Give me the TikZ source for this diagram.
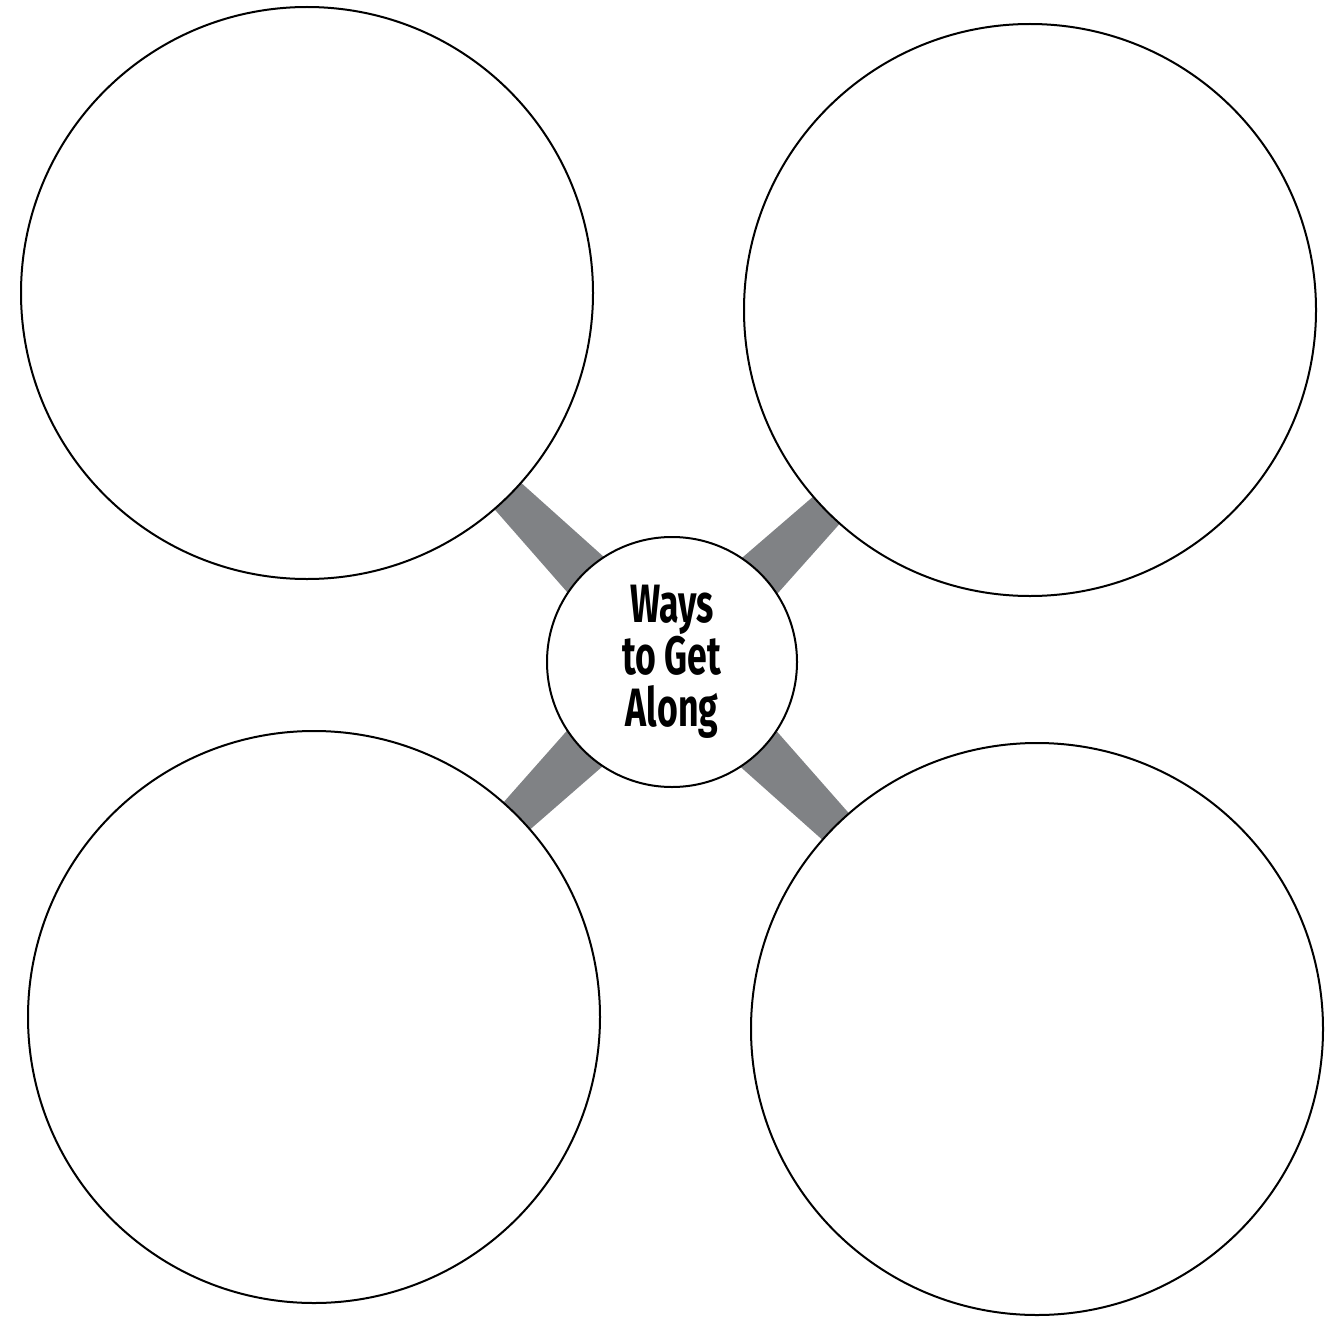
\documentclass[tikz,border=0pt]{standalone}
\usepackage{fontspec}
\newfontfamily\cf[FakeStretch=0.66]{Fira Sans}
\usetikzlibrary{calc}
\definecolor{bandgray}{RGB}{128,130,133}
\tikzset{
  big/.style={circle, draw=black, line width=2pt, fill=white, minimum size=572pt, inner sep=0pt},
  hub/.style={circle, draw=black, line width=2pt, fill=white, minimum size=250pt, inner sep=0pt, align=center, font=\cf\bfseries\fontsize{54}{52}\selectfont},
  band/.style={fill=bandgray}
}
\begin{document}
\begin{tikzpicture}[x=1pt,y=-1pt]
\useasboundingbox (0,0) rectangle (1336,1319);
\coordinate (ptl) at (307,293);
\coordinate (ptr) at (1030,310);
\coordinate (pbl) at (314,1017);
\coordinate (pbr) at (1037,1029);
\coordinate (pc) at (672,662);
\foreach \n in {ptl,ptr,pbl,pbr}{
  \fill[band] ($(\n)!240pt!(pc)!16pt!90:(pc)$) -- ($(pc)!80pt!(\n)!28pt!-90:(\n)$) -- ($(pc)!80pt!(\n)!28pt!90:(\n)$) -- ($(\n)!240pt!(pc)!16pt!-90:(pc)$) -- cycle;
}
\node[big] (tl) at (ptl) {};
\node[big] (tr) at (ptr) {};
\node[big] (bl) at (pbl) {};
\node[big] (br) at (pbr) {};
\node[hub] (c) at (pc) {Ways\\to Get\\Along};
\end{tikzpicture}
\end{document}
